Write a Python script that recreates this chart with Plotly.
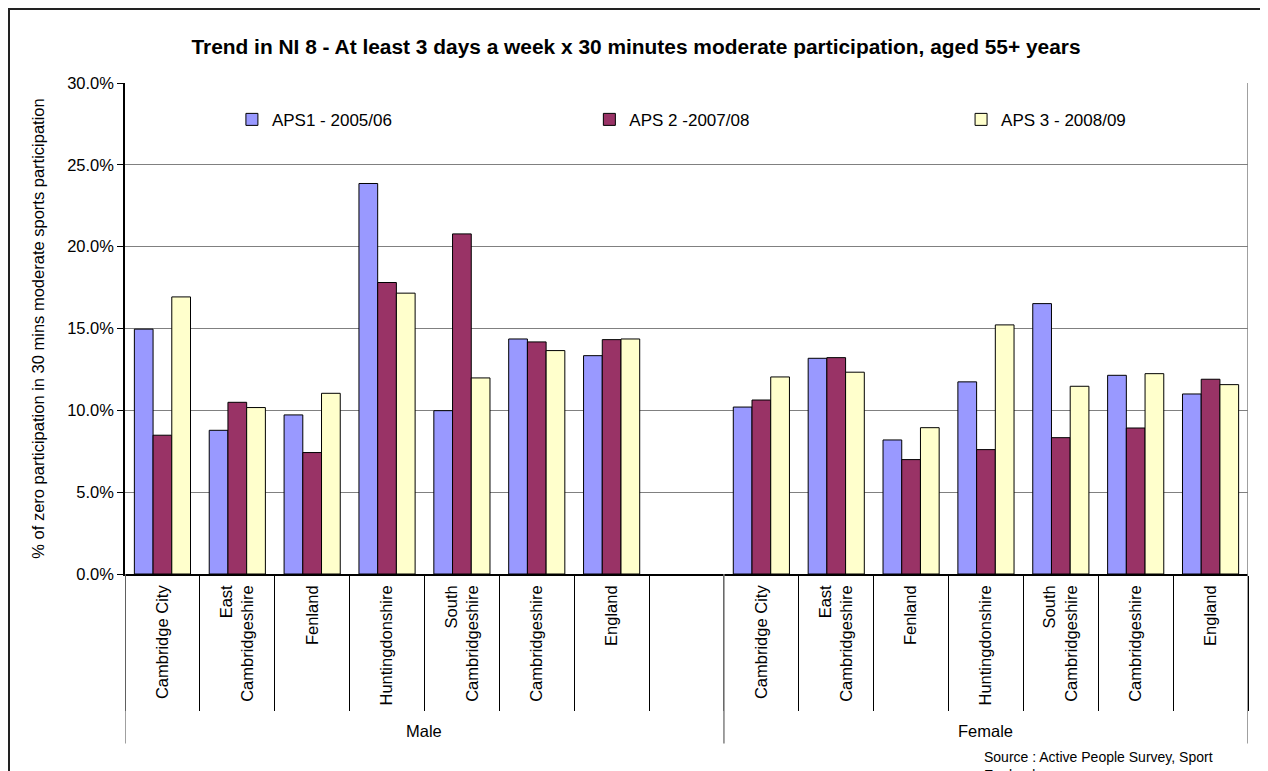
import plotly.graph_objects as go

# ---- data ----
districts = ["Cambridge City", "East<br>Cambridgeshire", "Fenland", "Huntingdonshire",
             "South<br>Cambridgeshire", "Cambridgeshire", "England"]
groups = ["Male", "Female"]
series_names = ["APS1 - 2005/06", "APS 2 -2007/08", "APS 3 - 2008/09"]
series_colors = ["#9999FF", "#993366", "#FFFFCC"]

male_aps1 = [0.1496, 0.0878, 0.0972, 0.2386, 0.0998, 0.1436, 0.1334]
male_aps2 = [0.0848, 0.1049, 0.0742, 0.1781, 0.2078, 0.1418, 0.1432]
male_aps3 = [0.1693, 0.1017, 0.1104, 0.1716, 0.1198, 0.1365, 0.1436]

female_aps1 = [0.1020, 0.1318, 0.0819, 0.1174, 0.1652, 0.1214, 0.1100]
female_aps2 = [0.1063, 0.1322, 0.0699, 0.0760, 0.0833, 0.0892, 0.1190]
female_aps3 = [0.1204, 0.1233, 0.0894, 0.1522, 0.1147, 0.1224, 0.1157]

yticks = [0, 0.05, 0.10, 0.15, 0.20, 0.25, 0.30]

# ---- layout of category slots: male group has a trailing blank slot ----
n = len(districts)
male_slots = n + 1
male_x = list(range(n))
female_x = [male_slots + i for i in range(n)]
total_slots = male_slots + n

series_vals = [
    (male_aps1, female_aps1),
    (male_aps2, female_aps2),
    (male_aps3, female_aps3),
]
legend_ids = ["legend", "legend2", "legend3"]
legend_x = [0.0952, 0.4135, 0.7445]

FONT = "Liberation Sans, Arial, sans-serif"

fig = go.Figure()
for name, color, (mv, fv), lid in zip(series_names, series_colors, series_vals, legend_ids):
    fig.add_trace(go.Bar(
        x=male_x + female_x,
        y=mv + fv,
        name=name,
        legend=lid,
        marker=dict(color=color, line=dict(color="#000000", width=1)),
        hovertemplate="%{y:.1%}<extra>" + name + "</extra>",
    ))

# group dividers and group labels on the category axis
boundaries = [-0.5, male_slots - 0.5, total_slots - 0.5]
shapes = []
for b in boundaries:
    shapes.append(dict(type="line", xref="x", yref="paper", x0=b, x1=b,
                       y0=(1 if b == boundaries[-1] else 0), y1=-0.345,
                       line=dict(color="#808080", width=1.5)))
# outer chart border
shapes.append(dict(type="rect", xref="paper", yref="paper",
                   x0=-0.1033, x1=1.0142, y0=-0.45, y1=1.1507,
                   line=dict(color="#222222", width=2), fillcolor="rgba(0,0,0,0)",
                   layer="below"))

annotations = [
    dict(x=(boundaries[0] + boundaries[1]) / 2, y=-0.3424, xref="x", yref="paper",
         text=groups[0], showarrow=False, font=dict(size=16.5, color="#000000")),
    dict(x=(boundaries[1] + boundaries[2]) / 2, y=-0.3424, xref="x", yref="paper",
         text=groups[1], showarrow=False, font=dict(size=16.5, color="#000000")),
    dict(x=0.7631, y=-0.352, xref="paper", yref="paper", xanchor="left", yanchor="top",
         align="left",
         text="Source : Active People Survey, Sport<br>England", showarrow=False,
         font=dict(size=14, color="#000000")),
]

legend_common = dict(orientation="h", xanchor="left", y=0.925, yanchor="middle",
                     font=dict(size=17, color="#000000"), bgcolor="rgba(0,0,0,0)")
layout_legends = {}
for lid, lx in zip(legend_ids, legend_x):
    layout_legends[lid] = dict(legend_common, x=lx)

fig.update_layout(
    width=1260, height=763,
    margin=dict(l=117, r=20, t=75, b=197),
    paper_bgcolor="#FFFFFF", plot_bgcolor="#FFFFFF",
    font=dict(family=FONT, size=16.5, color="#000000"),
    title=dict(text="<b>Trend in NI 8 - At least 3 days a week x 30 minutes moderate participation, aged 55+ years</b>",
               x=628 / 1260, xref="container", xanchor="center",
               y=1 - 39 / 763, yref="container", yanchor="middle",
               font=dict(size=20.9, family=FONT, color="#000000")),
    barmode="group", bargap=0.25, bargroupgap=0,
    showlegend=True,
    shapes=shapes,
    annotations=annotations,
    **layout_legends,
)

fig.update_xaxes(
    range=[-0.5, total_slots - 0.5],
    automargin=False,
    tickmode="array",
    tickvals=male_x + female_x,
    ticktext=districts + districts,
    tickangle=-90,
    ticks="",
    ticklabelstandoff=3,
    showline=True, linecolor="#000000", linewidth=1.5,
    showgrid=False, zeroline=False,
    minor=dict(tickmode="linear", tick0=-0.5, dtick=1, ticks="outside",
               ticklen=135, tickcolor="#000000", tickwidth=1, showgrid=False),
    tickfont=dict(size=16.5, color="#000000"),
)

fig.update_yaxes(
    range=[0, 0.30],
    automargin=False,
    tickmode="array", tickvals=yticks,
    tickformat=".1%",
    ticks="outside", ticklen=6, tickcolor="#000000",
    showline=True, linecolor="#000000", linewidth=1.5,
    showgrid=True, gridcolor="#808080", gridwidth=1,
    zeroline=False,
    tickfont=dict(size=16.5, color="#000000"),
    title=dict(text="% of zero participation in 30 mins moderate sports participation",
               font=dict(size=16.5, color="#000000"), standoff=18),
)

fig.write_html("out.html")
